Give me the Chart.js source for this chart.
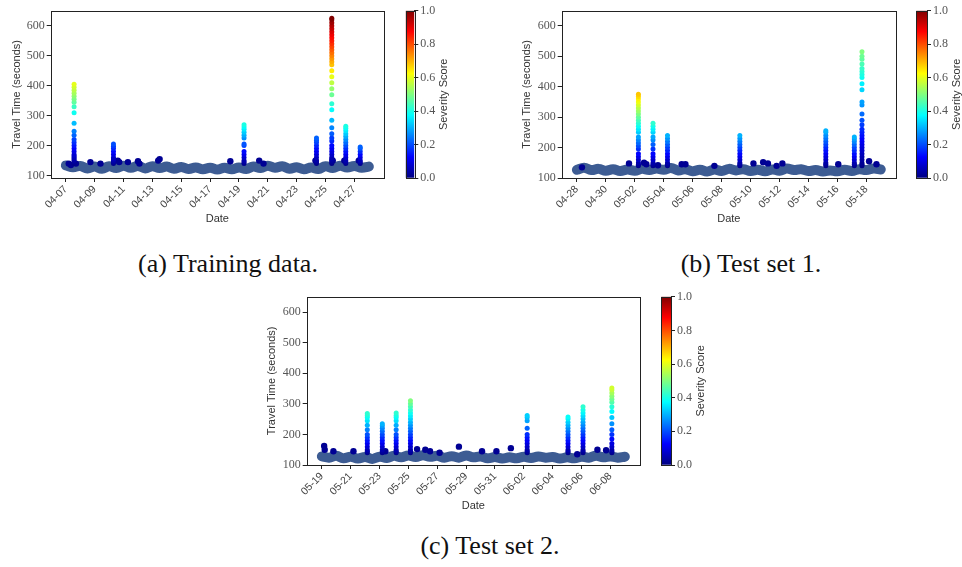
<!DOCTYPE html>
<html>
<head>
<meta charset="utf-8">
<script src="https://cdn.jsdelivr.net/npm/chart.js@4.4.1/dist/chart.umd.min.js"></script>
<style>
  body { margin: 0; background: #fff; width: 962px; height: 567px; position: relative; overflow: hidden; }
  canvas { position: absolute; }
  .cap { position: absolute; font-family: "Liberation Serif", serif; font-size: 26px; color: #111; text-align: center; white-space: nowrap; }
</style>
</head>
<body>
<canvas id="plotA" width="390" height="230" style="left:0px;top:0px"></canvas>
<canvas id="barA" width="62" height="190" style="left:400px;top:0px"></canvas>
<canvas id="plotB" width="392" height="230" style="left:510px;top:0px"></canvas>
<canvas id="barB" width="52" height="190" style="left:910px;top:0px"></canvas>
<canvas id="plotC" width="391" height="232" style="left:255px;top:285px"></canvas>
<canvas id="barC" width="60" height="190" style="left:655px;top:285px"></canvas>
<div class="cap" style="left:128px;top:249px;width:200px">(a) Training data.</div>
<div class="cap" style="left:651px;top:249px;width:200px">(b) Test set 1.</div>
<div class="cap" style="left:390px;top:531px;width:200px">(c) Test set 2.</div>
<script>
// x = days since the first date of each set, ticks every 2 days
const tickDays = [0, 2, 4, 6, 8, 10, 12, 14, 16, 18, 20];
const yTicks = [100, 200, 300, 400, 500, 600];
const BASE_STEP = 0.5; // baseline sampled every half day

// ---- training data (04-07 .. 04-28)
const trainTickLabels = ['04-07','04-09','04-11','04-13','04-15','04-17','04-19','04-21','04-23','04-25','04-27'];
const trainBase = [134,128,132,124,130,123,131,125,133,126,132,124,131,125,130,123,129,122,127,121,126,120,126,121,127,122,130,125,133,126,131,123,128,121,127,122,131,125,133,127,132,126,130];
const trainBlobs = [[0.2,140],[0.35,135],[0.7,140],[1.7,145],[2.4,140],[3.6,150],[3.7,145],[4.3,145],[5.0,148],[5.1,140],[6.4,150],[6.5,155],[11.4,148],[13.4,150],[13.7,140],[17.3,150],[18.5,150],[19.3,150],[20.3,150]];
const trainSpikeDays = [0.57, 3.3, 12.35, 17.37, 18.43, 19.4, 20.4];
const trainSpikeSev = [0.6, 0.2, 0.4, 0.22, 1.0, 0.4, 0.22];
const trainSpikes = [
  [140,145,150,155,160,165,170,180,190,200,210,220,235,248,275,310,330,345,355,365,375,385,395,405],
  [140,145,150,155,160,170,180,190,198,205],
  [140,145,150,160,170,180,200,205,225,235,245,255,262,270],
  [140,145,150,160,170,180,190,200,210,218,225],
  [140,145,150,155,160,170,180,190,200,215,225,240,260,285,320,340,370,390,410,430,450,470,480,490,500,510,520,530,540,550,560,570,580,590,600,610,620,625],
  [140,145,150,160,170,180,190,200,210,220,230,240,250,258,265],
  [140,145,150,160,170,180,190,195]
];

// ---- test set 1 (04-28 .. 05-19)
const test1TickLabels = ['04-28','04-30','05-02','05-04','05-06','05-08','05-10','05-12','05-14','05-16','05-18'];
const test1Base = [127,134,126,130,124,129,123,128,124,130,126,131,127,133,125,129,122,127,121,128,123,130,125,129,123,127,122,128,124,131,126,129,123,126,121,125,122,127,123,129,126,131,128];
const test1Blobs = [[0.35,135],[3.6,148],[4.64,150],[4.8,145],[5.6,142],[7.24,145],[7.5,145],[9.5,140],[12.2,148],[12.87,152],[13.2,148],[13.8,140],[14.2,148],[18.06,145],[20.19,155],[20.7,145]];
const test1SpikeDays = [4.25, 5.26, 6.26, 11.26, 17.2, 19.17, 19.7];
const test1SpikeSev = [0.68, 0.42, 0.3, 0.3, 0.3, 0.3, 0.5];
const test1Spikes = [
  [140,145,150,160,170,180,195,205,215,225,235,250,260,270,280,290,300,310,320,330,340,350,360,368,375],
  [140,145,150,160,170,180,195,210,225,235,250,260,270,280],
  [140,145,150,160,170,180,190,200,210,220,230,240],
  [140,145,150,160,170,180,190,200,210,220,230,240],
  [140,145,150,160,170,180,190,200,210,220,230,240,250,255],
  [140,145,150,160,170,180,190,200,210,220,228,235],
  [140,145,150,160,170,180,190,200,210,220,230,240,250,260,275,290,310,340,350,390,410,430,440,450,460,475,490,500,515]
];

// ---- test set 2 (05-19 .. 06-09)
const test2TickLabels = ['05-19','05-21','05-23','05-25','05-27','05-29','05-31','06-02','06-04','06-06','06-08'];
const test2Base = [128,124,130,122,127,121,126,120,127,123,130,125,131,126,132,127,130,124,129,124,131,125,128,122,126,121,125,122,127,123,128,124,126,121,125,122,127,124,130,125,128,124,127];
const test2Blobs = [[0.16,162],[0.2,150],[0.8,145],[2.19,145],[4.4,145],[6.6,152],[7.17,150],[7.5,145],[8.16,140],[9.5,160],[11.1,145],[12.1,145],[13.1,155],[17.7,135],[19.1,150],[19.7,148]];
const test2SpikeDays = [3.15, 4.19, 5.15, 6.14, 14.23, 17.06, 18.1, 20.1];
const test2SpikeSev = [0.42, 0.3, 0.42, 0.5, 0.33, 0.38, 0.42, 0.58];
const test2Spikes = [
  [140,145,150,160,170,180,190,200,215,230,245,255,262,268],
  [140,145,150,160,170,180,190,200,210,220,228,235],
  [140,145,150,160,170,180,190,200,215,230,245,255,262,270],
  [140,145,150,160,170,180,190,200,210,220,230,240,250,260,270,280,290,300,310],
  [140,145,150,160,170,180,190,200,220,245,255,262],
  [140,145,150,160,170,180,190,200,210,220,230,240,250,257],
  [140,145,150,160,170,180,190,200,210,220,230,240,250,260,270,280,290],
  [140,145,150,160,170,185,200,215,235,255,275,290,305,315,325,335,345,352]
];

const sevTicks = [0, 0.2, 0.4, 0.6, 0.8, 1.0];

function jet(t) {
  t = Math.max(0, Math.min(1, t));
  const c = x => Math.round(255 * Math.max(0, Math.min(1, x)));
  return `rgb(${c(1.5 - Math.abs(4 * t - 3))},${c(1.5 - Math.abs(4 * t - 2))},${c(1.5 - Math.abs(4 * t - 1))})`;
}

const boxPlugin = {
  id: 'box',
  afterDraw(chart) {
    const { ctx, chartArea: a } = chart;
    ctx.save();
    ctx.strokeStyle = '#222';
    ctx.lineWidth = 1;
    ctx.strokeRect(Math.round(a.left) + 0.5, Math.round(a.top) + 0.5, Math.round(a.right - a.left), Math.round(a.bottom - a.top));
    ctx.restore();
  }
};

function makePlot(id, base, blobs, spikeDays, spikeSev, spikes, tickLabels, yMin, pad) {
  const pts = [], cols = [];
  spikes.forEach((col, i) => {
    const peak = col[col.length - 1];
    col.forEach(v => {
      pts.push({ x: spikeDays[i], y: v });
      cols.push(jet(spikeSev[i] * Math.max(0, (v - 135) / (peak - 135))));
    });
  });
  new Chart(document.getElementById(id), {
    type: 'scatter',
    data: {
      datasets: [
        { data: pts, pointRadius: 2.5, pointBackgroundColor: cols, pointBorderWidth: 0, order: 0 },
        { data: blobs.map(b => ({ x: b[0], y: b[1] })), pointRadius: 3.2, pointBackgroundColor: jet(0.02), pointBorderWidth: 0, order: 1 },
        { type: 'line', data: base.map((v, i) => ({ x: i * BASE_STEP, y: v })), borderColor: '#3d5c93', borderWidth: 10,
          borderCapStyle: 'round', tension: 0.4, pointRadius: 0, order: 2 }
      ]
    },
    options: {
      responsive: false,
      animation: false,
      layout: { padding: pad },
      plugins: { legend: { display: false }, tooltip: { enabled: false } },
      scales: {
        x: {
          type: 'linear', min: -1.05, max: 22.05,
          afterBuildTicks: s => { s.ticks = tickDays.map(v => ({ value: v })); },
          afterFit: s => { s.height = 52; },
          grid: { drawOnChartArea: false, tickLength: 4, color: '#222' },
          border: { display: false },
          ticks: { minRotation: 45, maxRotation: 45, padding: 1, color: '#444',
            font: { family: 'Liberation Sans', size: 10.5 },
            callback: v => tickLabels[tickDays.indexOf(v)] },
          title: { display: true, text: 'Date', color: '#333', padding: { top: 0, bottom: 4 },
            font: { family: 'Liberation Sans', size: 11 } }
        },
        y: {
          min: yMin, max: 650,
          afterBuildTicks: s => { s.ticks = yTicks.map(v => ({ value: v })); },
          afterFit: s => { s.width = pad.yw; },
          grid: { drawOnChartArea: false, tickLength: 4, color: '#222' },
          border: { display: false },
          ticks: { padding: 2, color: '#555', font: { family: 'Liberation Serif', size: 12 } },
          title: { display: true, text: 'Travel Time (seconds)', color: '#333', padding: { top: 10, bottom: 0 },
            font: { family: 'Liberation Sans', size: 11 } }
        }
      }
    },
    plugins: [boxPlugin]
  });
}

const sevTitle = {
  id: 'sevTitle',
  afterDraw(chart) {
    const { ctx, chartArea: a } = chart;
    ctx.save();
    ctx.translate(a.right + 29.5, (a.top + a.bottom) / 2);
    ctx.rotate(-Math.PI / 2);
    ctx.fillStyle = '#333';
    ctx.font = '11px "Liberation Sans"';
    ctx.textAlign = 'center';
    ctx.textBaseline = 'middle';
    ctx.fillText('Severity Score', 0, 0);
    ctx.restore();
  }
};

function makeColorbar(id, pad, axisWidth) {
  new Chart(document.getElementById(id), {
    type: 'bar',
    data: {
      labels: ['sev'],
      datasets: [{
        data: [1], barPercentage: 1, categoryPercentage: 1, borderWidth: 0,
        backgroundColor: ctx => {
          const a = ctx.chart.chartArea;
          if (!a) return '#888';
          const g = ctx.chart.ctx.createLinearGradient(0, a.bottom, 0, a.top);
          for (let i = 0; i <= 16; i++) g.addColorStop(i / 16, jet(i / 16));
          return g;
        }
      }]
    },
    options: {
      responsive: false,
      animation: false,
      layout: { padding: pad },
      plugins: { legend: { display: false }, tooltip: { enabled: false } },
      scales: {
        x: { display: false },
        y: {
          position: 'right', min: 0, max: 1,
          afterBuildTicks: s => { s.ticks = sevTicks.map(v => ({ value: v })); },
          afterFit: s => { s.width = axisWidth; },
          grid: { drawOnChartArea: false, tickLength: 4, color: '#222' },
          border: { display: false },
          ticks: { padding: 2, color: '#555', font: { family: 'Liberation Serif', size: 12 },
            callback: v => v.toFixed(1) }
        }
      }
    },
    plugins: [boxPlugin, sevTitle]
  });
}

makePlot('plotA', trainBase, trainBlobs, trainSpikeDays, trainSpikeSev, trainSpikes, trainTickLabels, 92,
  { left: 0, top: 10.7, right: 6, bottom: 0, yw: 50.7 });
makePlot('plotB', test1Base, test1Blobs, test1SpikeDays, test1SpikeSev, test1Spikes, test1TickLabels, 100,
  { left: 0, top: 10.7, right: 6, bottom: 0, yw: 51.7 });
makePlot('plotC', test2Base, test2Blobs, test2SpikeDays, test2SpikeSev, test2Spikes, test2TickLabels, 100,
  { left: 0, top: 11.7, right: 6, bottom: 0, yw: 51.7 });

makeColorbar('barA', { left: 5.7, top: 10.7, right: 0, bottom: 12 }, 47.7);
makeColorbar('barB', { left: 6.3, top: 10.7, right: 0, bottom: 12 }, 35);
makeColorbar('barC', { left: 6.3, top: 11.7, right: 0, bottom: 10 }, 44);
</script>
</body>
</html>
